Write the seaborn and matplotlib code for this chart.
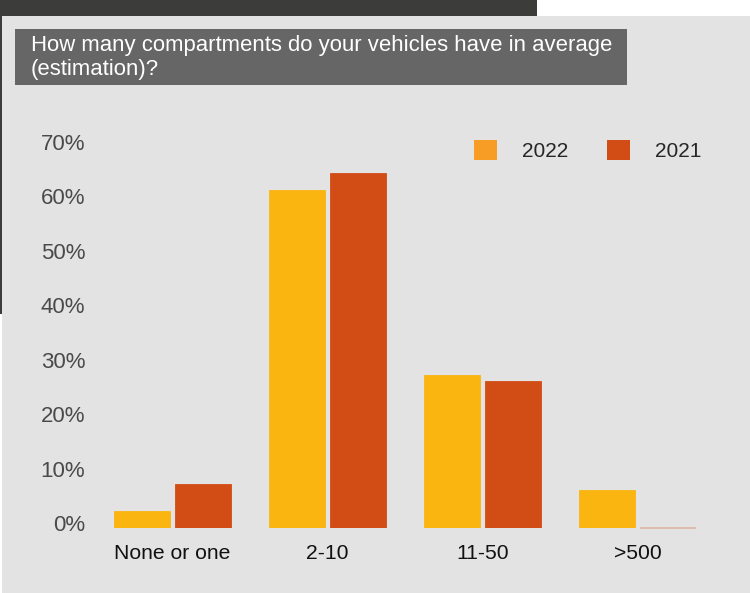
import matplotlib
matplotlib.use("Agg")
import matplotlib.pyplot as plt
import matplotlib.transforms as mtransforms
from matplotlib.patches import Rectangle, Patch
import pandas as pd
import seaborn as sns

# Survey data (share of respondents, %)
categories = ["None or one", "2-10", "11-50", ">500"]
years = ["2022", "2021"]
values_2022 = [3, 62, 28, 7]
values_2021 = [8, 65, 27, 0]
y_ticks = [0, 10, 20, 30, 40, 50, 60, 70]

title = "How many compartments do your vehicles have in average\n(estimation)?"

bar_colors = {"2022": "#fbb511", "2021": "#d14d15"}
legend_colors = {"2022": "#f79d25", "2021": "#d14d15"}

df = pd.DataFrame({
    "category": categories * 2,
    "year": ["2022"] * len(categories) + ["2021"] * len(categories),
    "share": values_2022 + values_2021,
})

sns.set_theme(style="white")
plt.rcParams["font.family"] = ["Liberation Sans", "DejaVu Sans"]

W, H = 750, 593
fig = plt.figure(figsize=(W / 100, H / 100), dpi=100, facecolor="white")


def px_rect(x0, y0, x1, y1, color, z):
    """Rectangle given in pixel coordinates measured from the top-left corner."""
    fig.patches.append(Rectangle((x0 / W, 1 - y1 / H), (x1 - x0) / W, (y1 - y0) / H,
                                 transform=fig.transFigure, facecolor=color,
                                 edgecolor="none", zorder=z))


# background panels and title box
px_rect(0, 0, 537, 314, "#3c3c3b", -3)
px_rect(2, 16, W, H, "#e3e3e3", -2)
px_rect(15, 29, 627, 85, "#666666", -1)
fig.text(31 / W, 1 - 35 / H, title, color="white", fontsize=15.9,
         va="top", ha="left", linespacing=1.17)

ax_left, ax_right = 95, 715
ax_bottom, ax_top = 527.7, 527.7 - 72 * 5.45
ax = fig.add_axes([ax_left / W, 1 - ax_bottom / H,
                   (ax_right - ax_left) / W, (ax_bottom - ax_top) / H])
ax.set_facecolor("none")

sns.barplot(data=df, x="category", y="share", hue="year", hue_order=years,
            order=categories, palette=bar_colors, width=0.787, gap=0.083,
            linewidth=0.6, saturation=1, ax=ax, legend=False)
for patch, year in zip(ax.patches, [y for y in years for _ in categories]):
    patch.set_edgecolor(bar_colors[year])
    if patch.get_height() == 0:
        # an empty bar still shows as a faint line on the baseline
        patch.set_edgecolor((0.82, 0.30, 0.08, 0.3))
        patch.set_linewidth(1.2)
        patch.set_clip_on(False)

ax.set_xlim(-0.5, len(categories) - 0.5)
ax.set_ylim(0, 72)
ax.set_yticks(y_ticks)
ax.set_yticklabels([f"{v}%" for v in y_ticks])
ax.set_xlabel("")
ax.set_ylabel("")
for s in ax.spines.values():
    s.set_visible(False)
ax.tick_params(axis="both", length=0)
ax.tick_params(axis="y", pad=7, labelsize=16, labelcolor="#4a4a4a")
ax.tick_params(axis="x", pad=12, labelsize=15.2, labelcolor="#111111")

shift = mtransforms.ScaledTranslation(0, 4.5 / 100, fig.dpi_scale_trans)
for lbl in ax.get_yticklabels():
    lbl.set_transform(lbl.get_transform() + shift)

handles = [Patch(facecolor=legend_colors[y], edgecolor="none", label=y) for y in years]
fig.legend(handles=handles, loc="upper left", bbox_to_anchor=(474 / W, 1 - 140 / H),
           ncol=2, frameon=False, fontsize=15, handlelength=1.1, handleheight=1.1,
           handletextpad=1.2, columnspacing=1.85, borderpad=0, borderaxespad=0)

fig.savefig("out.png", dpi=100, facecolor=fig.get_facecolor())
